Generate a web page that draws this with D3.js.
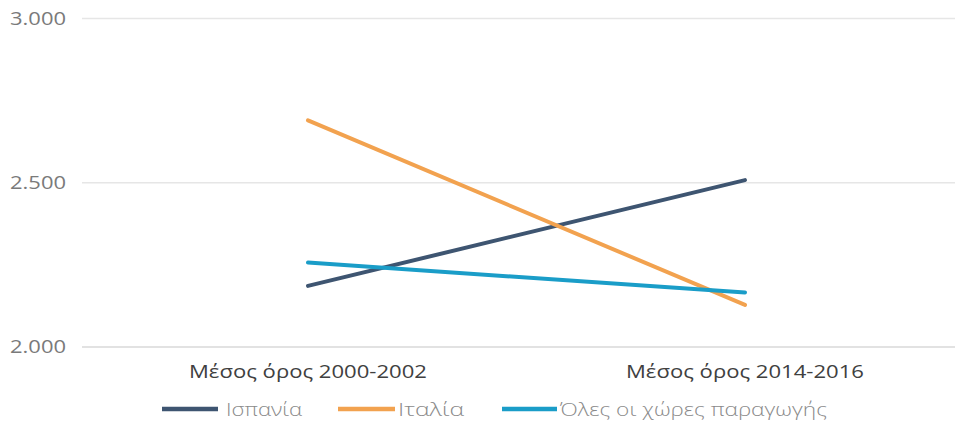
<!DOCTYPE html>
<html>
<head>
<meta charset="utf-8">
<script src="https://cdn.jsdelivr.net/npm/d3@7"></script>
<style>
  html, body { margin: 0; padding: 0; background: #fff; }
  svg { display: block; font-family: "Open Sans", "Noto Sans", sans-serif; }
</style>
</head>
<body>
<svg id="chart" width="955" height="421"></svg>
<script>
const categories = ["Μέσος όρος 2000-2002", "Μέσος όρος 2014-2016"];
const seriesNames = ["Ισπανία", "Ιταλία", "Όλες οι χώρες παραγωγής"];
const spainValues = [2186, 2508];
const italyValues = [2690, 2128];
const allValues = [2257, 2166];
const yTicks = [2000, 2500, 3000];
const yTickLabels = ["2.000", "2.500", "3.000"];

const colors = ["#3e5571", "#f2a24f", "#1a9dc8"];
const series = [
  { name: seriesNames[0], values: spainValues, color: colors[0] },
  { name: seriesNames[1], values: italyValues, color: colors[1] },
  { name: seriesNames[2], values: allValues, color: colors[2] }
];

const svg = d3.select("#chart");
const gridLeft = 82, gridRight = 955;

const x = d3.scaleBand().domain(categories).range([89.5, 963.5]);
const y = d3.scaleLinear().domain([2000, 3000]).range([347, 18.5]);

// gridlines
svg.append("g").selectAll("line").data(yTicks).join("line")
  .attr("x1", gridLeft).attr("x2", gridRight)
  .attr("y1", d => y(d)).attr("y2", d => y(d))
  .attr("stroke", d => d === 2000 ? "#d9d9d9" : "#e6e6e6")
  .attr("stroke-width", 1.5);

// y tick labels
svg.append("g").selectAll("text").data(yTicks).join("text")
  .attr("x", 10).attr("y", d => y(d))
  .attr("dy", "0.35em")
  .attr("font-size", 18)
  .attr("fill", "#7a7a7a")
  .attr("textLength", 56).attr("lengthAdjust", "spacingAndGlyphs")
  .text((d, i) => yTickLabels[i]);

// x category labels
svg.append("g").selectAll("text").data(categories).join("text")
  .attr("x", d => x(d) + x.bandwidth() / 2).attr("y", 378)
  .attr("text-anchor", "middle")
  .attr("font-size", 19)
  .attr("fill", "#404040")
  .attr("textLength", 238).attr("lengthAdjust", "spacingAndGlyphs")
  .text(d => d);

// lines
const line = d3.line()
  .x((d, i) => x(categories[i]) + x.bandwidth() / 2)
  .y(d => y(d));

svg.append("g").selectAll("path").data(series).join("path")
  .attr("d", d => line(d.values))
  .attr("fill", "none")
  .attr("stroke", d => d.color)
  .attr("stroke-width", 4)
  .attr("stroke-linecap", "round");

// legend
const legendX = [162, 338, 502];
const legendLineW = [56, 57, 55];
const legendTextW = [76, 66, 267];
const lg = svg.append("g").selectAll("g").data(series).join("g")
  .attr("transform", (d, i) => `translate(${legendX[i]},409)`);
lg.append("line").attr("x1", 0).attr("x2", (d, i) => legendLineW[i]).attr("y1", 0).attr("y2", 0)
  .attr("stroke", d => d.color).attr("stroke-width", 4.5);
lg.append("text").attr("x", (d, i) => legendLineW[i] + (i === 0 ? 8 : 3)).attr("y", 0).attr("dy", "0.35em")
  .attr("font-size", 19).attr("font-weight", 300).attr("fill", "#8a8a8a")
  .attr("textLength", (d, i) => legendTextW[i]).attr("lengthAdjust", "spacingAndGlyphs")
  .text(d => d.name);
</script>
</body>
</html>
